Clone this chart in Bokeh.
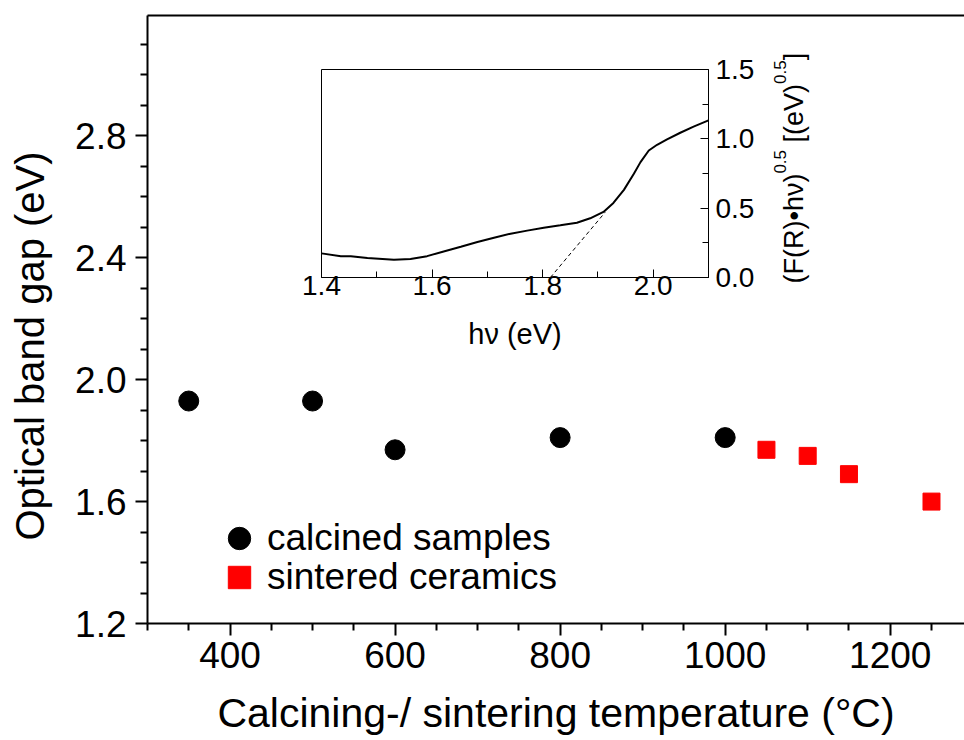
import numpy as np
from bokeh.plotting import figure
from bokeh.models import (FixedTicker, LinearAxis, Legend, LegendItem, Range1d, ColumnDataSource)
from bokeh.core.properties import value
from bokeh.layouts import column
from bokeh.embed import file_html
from bokeh.resources import INLINE

# ---------------- data ----------------
calcined_temp = [350, 500, 600, 800, 1000]
calcined_gap = [1.93, 1.93, 1.77, 1.81, 1.81]
sintered_temp = [1050, 1100, 1150, 1250]
sintered_gap = [1.77, 1.75, 1.69, 1.60]

x_major = [400, 600, 800, 1000, 1200]
x_labels = ["400", "600", "800", "1000", "1200"]
x_minor = [300, 350, 450, 500, 550, 650, 700, 750, 850, 900, 950, 1050, 1100, 1150, 1250]
y_major = [1.2, 1.6, 2.0, 2.4, 2.8]
y_labels = ["1.2", "1.6", "2.0", "2.4", "2.8"]
y_minor = [1.3, 1.4, 1.5, 1.7, 1.8, 1.9, 2.1, 2.2, 2.3, 2.5, 2.6, 2.7, 2.9, 3.0, 3.1]

inset_hv = [1.400, 1.435, 1.453, 1.483, 1.531, 1.561, 1.591, 1.621, 1.652, 1.682,
            1.712, 1.742, 1.772, 1.802, 1.832, 1.862, 1.886, 1.910, 1.928, 1.947,
            1.965, 1.977, 1.992, 2.007, 2.025, 2.049, 2.073, 2.100]
inset_f = [0.174, 0.154, 0.154, 0.140, 0.128, 0.133, 0.154, 0.188, 0.222, 0.256,
           0.287, 0.316, 0.338, 0.359, 0.376, 0.395, 0.427, 0.473, 0.538, 0.632,
           0.748, 0.832, 0.916, 0.957, 0.996, 1.044, 1.088, 1.133]
tangent_hv = [1.814, 1.913]
tangent_f = [0.0, 0.47]

inset_x_major = [1.4, 1.6, 1.8, 2.0]
inset_x_labels = ["1.4", "1.6", "1.8", "2.0"]
inset_x_minor = [1.5, 1.7, 1.9]
inset_y_major = [0.0, 0.5, 1.0, 1.5]
inset_y_labels = ["0.0", "0.5", "1.0", "1.5"]
inset_y_minor = [0.25, 0.75, 1.25]

main_ylabel = "Optical band gap (eV)"
inset_ylabel_parts = ["(F(R)•hν)", "0.5", "[(eV)", "0.5", "]"]

FONT = "Liberation Sans"

# ---------------- main plot ----------------
p = figure(width=964, height=740, x_range=Range1d(300, 1290), y_range=Range1d(1.2, 3.195),
           output_backend="svg", toolbar_location=None, frame_align=False,
           min_border_left=147, min_border_right=0, min_border_top=15, min_border_bottom=117)
p.outline_line_color = None
p.grid.visible = False
p.background_fill_color = "white"
p.border_fill_color = "white"

xa = p.xaxis[0]
ya = p.yaxis[0]
xa.ticker = FixedTicker(ticks=x_major, minor_ticks=x_minor)
xa.major_label_overrides = {float(k): v for k, v in zip(x_major, x_labels)}
ya.ticker = FixedTicker(ticks=y_major, minor_ticks=y_minor)
ya.major_label_overrides = {float(k): v for k, v in zip(y_major, y_labels)}
for ax in (xa, ya):
    ax.axis_line_width = 2
    ax.axis_line_color = "black"
    ax.major_tick_line_width = 2
    ax.minor_tick_line_width = 2
    ax.major_tick_line_color = "black"
    ax.minor_tick_line_color = "black"
    ax.major_tick_out = 12
    ax.major_tick_in = 0
    ax.minor_tick_out = 7
    ax.minor_tick_in = 0
    ax.major_label_text_font = FONT
    ax.major_label_text_font_size = "37px"
    ax.major_label_text_color = "black"
xa.major_label_standoff = 6
ya.major_label_standoff = 9
xa.axis_label = "Calcining-/ sintering temperature (°C)"
xa.axis_label_text_font = FONT
xa.axis_label_text_font_size = "41px"
xa.axis_label_text_font_style = "normal"
xa.axis_label_text_color = "black"
xa.axis_label_standoff = 19

top = LinearAxis(ticker=FixedTicker(ticks=[]), axis_line_width=2, axis_line_color="black",
                 major_tick_out=0, major_tick_in=0, minor_tick_out=0, minor_tick_in=0,
                 major_label_text_font_size="0px", major_label_standoff=0, axis_label_standoff=0)
p.add_layout(top, "above")

r1 = p.scatter(calcined_temp, calcined_gap, marker="circle", size=20,
               fill_color="black", line_color="black")
r2 = p.scatter(sintered_temp, sintered_gap, marker="square", size=17,
               fill_color="#ff0000", line_color="#ff0000")

legend_style = dict(glyph_width=56, glyph_height=56, spacing=0, label_standoff=0,
                    padding=0, margin=0, border_line_color=None, background_fill_alpha=0,
                    label_text_font=FONT, label_text_font_size="37px",
                    label_text_color="black")
leg1 = Legend(items=[LegendItem(label="calcined samples", renderers=[r1])],
              location=(64, 57), **legend_style)
leg2 = Legend(items=[LegendItem(label="sintered ceramics", renderers=[r2])],
              location=(64, 18), **legend_style)
p.add_layout(leg1)
p.add_layout(leg2)

# ---------------- inset ----------------
ins = figure(width=535, height=305, x_range=Range1d(1.4, 2.1), y_range=Range1d(0, 1.5),
             y_axis_location="right", output_backend="svg", toolbar_location=None,
             frame_align=False,
             min_border_left=26, min_border_right=122, min_border_top=14, min_border_bottom=83,
             styles={"position": "absolute", "left": "295px", "top": "55px"})
ins.background_fill_alpha = 0
ins.border_fill_alpha = 0
ins.outline_line_color = "black"
ins.outline_line_width = 1
ins.grid.visible = False

ix = ins.xaxis[0]
iy = ins.yaxis[0]
ix.ticker = FixedTicker(ticks=inset_x_major, minor_ticks=inset_x_minor)
ix.major_label_overrides = {float(k): v for k, v in zip(inset_x_major, inset_x_labels)}
iy.ticker = FixedTicker(ticks=inset_y_major, minor_ticks=inset_y_minor)
iy.major_label_overrides = {float(k): v for k, v in zip(inset_y_major, inset_y_labels)}
for ax in (ix, iy):
    ax.axis_line_width = 1
    ax.axis_line_color = "black"
    ax.major_tick_line_width = 1
    ax.minor_tick_line_width = 1
    ax.major_tick_line_color = "black"
    ax.minor_tick_line_color = "black"
    ax.major_tick_in = 8
    ax.major_tick_out = 0
    ax.minor_tick_in = 6
    ax.minor_tick_out = 0
    ax.major_label_text_font = FONT
    ax.major_label_text_font_size = "28px"
    ax.major_label_text_color = "black"
ix.major_label_standoff = -2
iy.major_label_standoff = 7
ix.axis_label = "hν (eV)"
ix.axis_label_text_font = FONT
ix.axis_label_text_font_size = "29px"
ix.axis_label_text_font_style = "normal"
ix.axis_label_text_color = "black"
ix.axis_label_standoff = 20

ins.line(inset_hv, inset_f, line_color="black", line_width=2)
ins.line(tangent_hv, tangent_f, line_color="black", line_width=1, line_dash="4 3")

# ---------------- text overlay (page pixel coordinates) ----------------
ov = figure(width=964, height=740, x_range=Range1d(0, 964), y_range=Range1d(740, 0),
            x_axis_location=None, y_axis_location=None, output_backend="svg",
            toolbar_location=None, frame_align=False, min_border=0,
            styles={"position": "absolute", "left": "0px", "top": "0px"})
ov.outline_line_color = None
ov.grid.visible = False
ov.background_fill_alpha = 0
ov.border_fill_alpha = 0

ov.text(x=[29], y=[345.5], text=[main_ylabel], angle=np.pi / 2, text_align="center",
        text_baseline="alphabetic", text_font=value(FONT), text_font_size="40px",
        text_color="black")

# rotated inset y label with superscripts (pieces stacked upward)
em_widths = [4.071, 1.39, 2.167, 1.39, 0.278]
font_sizes = [27, 17, 27, 17, 27]
is_sup = [0, 1, 0, 1, 0]
gap_before = [0, 0, 0.278 * 27, 0, 0]
xs, ys, sizes_px = [], [], []
cur = 283.0
for em, fs, sup, gap in zip(em_widths, font_sizes, is_sup, gap_before):
    cur -= gap
    xs.append(779.0 if sup else 793.0)
    ys.append(cur)
    sizes_px.append(f"{fs}px")
    cur -= em * fs
src = ColumnDataSource(dict(x=xs, y=ys, t=inset_ylabel_parts, fs=sizes_px))
ov.text(x="x", y="y", text="t", source=src, angle=np.pi / 2, text_align="left",
        text_baseline="alphabetic", text_font=value(FONT), text_font_size="fs",
        text_color="black")

layout = column(p, ins, ov)
open("out.html", "w").write(file_html(layout, INLINE))
